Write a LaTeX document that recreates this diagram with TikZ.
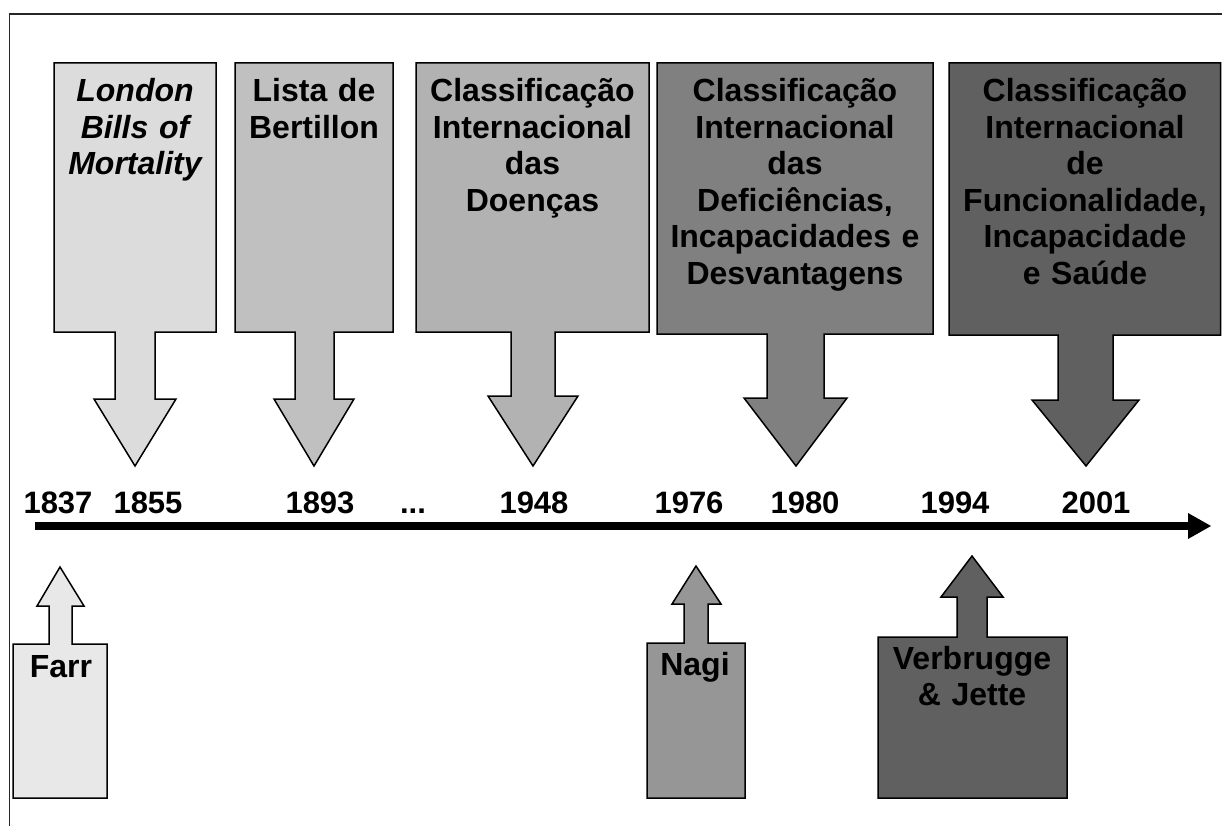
\documentclass[tikz,border=0pt]{standalone}
\usepackage{fontspec}
\setmainfont{Liberation Sans}
\definecolor{cA}{HTML}{DCDCDC}
\definecolor{cB}{HTML}{C0C0C0}
\definecolor{cC}{HTML}{B2B2B2}
\definecolor{cD}{HTML}{808080}
\definecolor{cE}{HTML}{606060}
\definecolor{cF}{HTML}{E8E8E8}
\definecolor{cG}{HTML}{969696}
\tikzset{
  callout/.style={draw=black, line width=1.5pt, line join=miter},
  boxtext/.style={anchor=base, inner sep=0pt, align=center, font=\fontsize{32}{36.5}\selectfont\bfseries},
  year/.style={anchor=base, inner sep=0pt, font=\fontsize{31}{36}\selectfont\bfseries},
  frameline/.style={draw=black!85, line width=1.5pt}
}
\begin{document}
\begin{tikzpicture}[x=1pt,y=-1pt]
\useasboundingbox (0,0) rectangle (1222,826);
% frame
\draw[frameline] (9.5,830) -- (9.5,14) -- (1226,14);

% down callouts
\path[callout, fill=cA] (54,63) -- (216,63) -- (216,332) -- (155,332) -- (155,399) -- (176,399) -- (135,466) -- (94,399) -- (115,399) -- (115,332) -- (54,332) -- cycle;
\path[callout, fill=cB] (235,63) -- (393,63) -- (393,332) -- (334,332) -- (334,399) -- (354,399) -- (314,466) -- (274,399) -- (295,399) -- (295,332) -- (235,332) -- cycle;
\path[callout, fill=cC] (416,63) -- (649,63) -- (649,332) -- (555,332) -- (555,396) -- (578,396) -- (533,466) -- (488,396) -- (511,396) -- (511,332) -- (416,332) -- cycle;
\path[callout, fill=cD] (657,63) -- (933,63) -- (933,334) -- (824,334) -- (824,398) -- (847,398) -- (796,466) -- (744,398) -- (767,398) -- (767,334) -- (657,334) -- cycle;
\path[callout, fill=cE] (949,63) -- (1220.5,63) -- (1220.5,335) -- (1113,335) -- (1113,400) -- (1139,400) -- (1086,466) -- (1032,400) -- (1058,400) -- (1058,335) -- (949,335) -- cycle;

\node[boxtext, text width=160pt] (london) at (135,102) {\itshape London\\\itshape Bills of\\\itshape Mortality};
\node[boxtext, text width=156pt] (lista) at (314,102) {Lista de\\Bertillon};
\node[boxtext, text width=232pt] (cid) at (532.5,102) {Classificação\\Internacional\\das\\Doenças};
\node[boxtext, text width=275pt] (cidid) at (795,102) {Classificação\\Internacional\\das\\Deficiências,\\Incapacidades e\\Desvantagens};
\node[boxtext, text width=270pt] (cif) at (1085,102) {Classificação\\Internacional\\de\\Funcionalidade,\\Incapacidade\\e Saúde};

% timeline
\coordinate (axL) at (35,526);
\coordinate (axR) at (1190,526);
\coordinate (axT) at (1211,526);
\draw[line width=7.5pt] (axL) -- (axR);
\fill (1188,513) -- (axT) -- (1188,539) -- cycle;

\node[year] (y1837) at (58,513) {1837};
\node[year] (y1855) at (148,513) {1855};
\node[year] (y1893) at (320,513) {1893};
\node[year] (ydots) at (413,513) {...};
\node[year] (y1948) at (534,513) {1948};
\node[year] (y1976) at (689,513) {1976};
\node[year] (y1980) at (805,513) {1980};
\node[year] (y1994) at (955,513) {1994};
\node[year] (y2001) at (1096,513) {2001};

% up callouts
\path[callout, fill=cF] (13,798) -- (13,644) -- (49,644) -- (49,606) -- (37,606) -- (60,567) -- (84,606) -- (72,606) -- (72,644) -- (107,644) -- (107,798) -- cycle;
\path[callout, fill=cG] (647,798) -- (647,643) -- (684,643) -- (684,604) -- (672,604) -- (696,566) -- (721,604) -- (708,604) -- (708,643) -- (745,643) -- (745,798) -- cycle;
\path[callout, fill=cE] (878,798) -- (878,637) -- (957,637) -- (957,597) -- (941,597) -- (972,556) -- (1003,597) -- (987,597) -- (987,637) -- (1067,637) -- (1067,798) -- cycle;

\node[boxtext, text width=94pt] (farr) at (61,677) {Farr};
\node[boxtext, text width=98pt] (nagi) at (695,675) {Nagi};
\node[boxtext, text width=189pt] (vj) at (972,669) {Verbrugge\\\& Jette};
\end{tikzpicture}
\end{document}
